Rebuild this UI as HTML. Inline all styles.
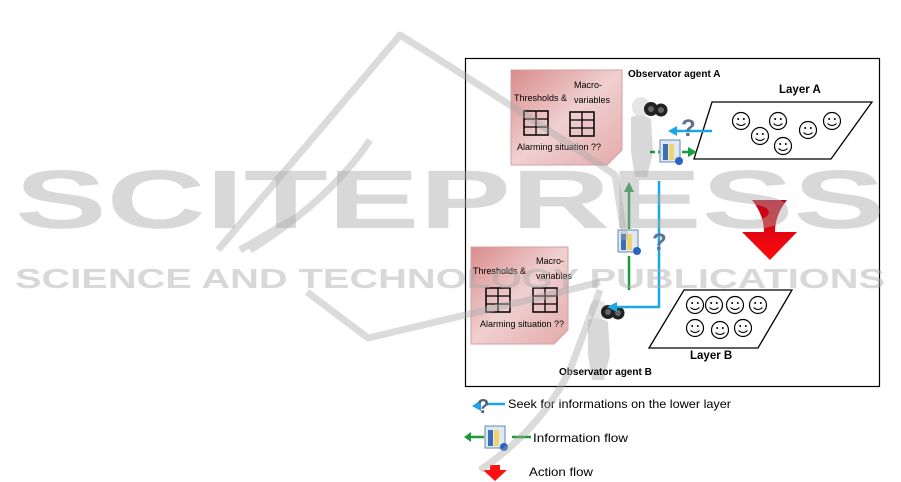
<!DOCTYPE html>
<html><head><meta charset="utf-8"><style>
body{margin:0;background:#fff;}
svg{display:block}
text{font-family:"Liberation Sans",sans-serif}
</style></head><body>
<svg width="901" height="482" viewBox="0 0 901 482" xmlns="http://www.w3.org/2000/svg">
<defs>
<linearGradient id="pk" x1="0" y1="0" x2="1" y2="1"><stop offset="0" stop-color="#d98b8b"/><stop offset="0.5" stop-color="#f0d0d0"/><stop offset="1" stop-color="#e3aaaa"/></linearGradient>
<linearGradient id="red" x1="0" y1="0" x2="0" y2="1"><stop offset="0" stop-color="#c00018"/><stop offset="1" stop-color="#ff0a0a"/></linearGradient>
<g id="smile"><circle r="8.5" fill="#fff" stroke="#000" stroke-width="1.2"/><circle cx="-2.8" cy="-2" r="1" /><circle cx="2.8" cy="-2" r="1"/><path d="M-4.5 2.5 Q0 6.5 4.5 2.5" fill="none" stroke="#000" stroke-width="1"/></g>
<g id="grid"><rect x="0" y="0" width="24" height="24" fill="none" stroke="#000" stroke-width="1.5"/><line x1="12" y1="0" x2="12" y2="24" stroke="#000" stroke-width="1.3"/><line x1="0" y1="8" x2="24" y2="8" stroke="#000" stroke-width="1.3"/><line x1="0" y1="16" x2="24" y2="16" stroke="#000" stroke-width="1.3"/></g>
<g id="doc"><rect x="0" y="0" width="20" height="22" fill="#dfe8f5" stroke="#6a86b0"/><rect x="3" y="4" width="5" height="16" fill="#3d6fb8"/><rect x="9" y="4" width="5" height="16" fill="#f1d46a"/><circle cx="19" cy="21" r="4" fill="#2a63c2"/></g>
<g id="person"><ellipse cx="0" cy="0" rx="9" ry="10" fill="#e6e6e6"/><path d="M-10 10 Q0 6 10 12 L12 45 L6 70 L-6 70 L-10 45 Z" fill="#d8d8d8"/><circle cx="10" cy="2" r="7" fill="#222"/><circle cx="20" cy="3" r="6.5" fill="#222"/><circle cx="10" cy="2" r="3" fill="#666"/><circle cx="20" cy="3" r="3" fill="#666"/></g>
</defs>

<rect x="465.5" y="58.5" width="414" height="328" fill="none" stroke="#000" stroke-width="1.2"/>

<path d="M511 70 L622 70 L622 150 L607 165 L511 165 Z" fill="url(#pk)" stroke="#d6a0a0"/>
<text x="514" y="101" font-size="9">Thresholds &amp;</text>
<text x="574" y="88" font-size="9">Macro-</text>
<text x="574" y="103" font-size="9">variables</text>
<use href="#grid" x="524" y="111"/>
<use href="#grid" x="570" y="112"/>
<text x="517" y="150" font-size="9">Alarming  situation ??</text>

<path d="M471 247 L568 247 L568 330 L554 344 L471 344 Z" fill="url(#pk)" stroke="#d6a0a0"/>
<text x="473" y="274" font-size="9">Thresholds &amp;</text>
<text x="536" y="264" font-size="9">Macro-</text>
<text x="536" y="279" font-size="9">variables</text>
<use href="#grid" x="486" y="288"/>
<use href="#grid" x="533" y="288"/>
<text x="480" y="327" font-size="9">Alarming  situation ??</text>

<use href="#person" x="641" y="107"/>
<use href="#person" x="598" y="310"/>
<text x="628" y="77" font-size="10" font-weight="bold">Observator agent A</text>
<text x="559" y="375" font-size="10" font-weight="bold">Observator agent B</text>

<polygon points="712,102 872,102 831,159 694,159" fill="#fff" stroke="#000" stroke-width="1.3"/>
<text x="779" y="93" font-size="11.5" font-weight="bold">Layer A</text>
<use href="#smile" x="741" y="121"/><use href="#smile" x="778" y="121"/><use href="#smile" x="760" y="136"/><use href="#smile" x="783" y="146"/><use href="#smile" x="808" y="130"/><use href="#smile" x="832" y="121"/>

<polygon points="684,290 792,290 758,348 649,348" fill="#fff" stroke="#000" stroke-width="1.3"/>
<text x="690" y="359" font-size="11.5" font-weight="bold">Layer B</text>
<use href="#smile" x="695" y="305"/><use href="#smile" x="714" y="305"/><use href="#smile" x="735" y="305"/><use href="#smile" x="758" y="305"/><use href="#smile" x="695" y="328"/><use href="#smile" x="720" y="330"/><use href="#smile" x="743" y="328"/>

<line x1="712" y1="131" x2="676" y2="131" stroke="#1aa7e8" stroke-width="2.5"/>
<polygon points="668,131 677,126 677,136" fill="#1aa7e8"/>
<text x="681" y="136" font-size="24" font-weight="bold" fill="#607090">?</text>
<line x1="650" y1="152" x2="662" y2="152" stroke="#1a9a3a" stroke-width="2.5" stroke-dasharray="5,3"/>
<line x1="682" y1="152" x2="688" y2="152" stroke="#1a9a3a" stroke-width="2.5"/>
<polygon points="697,152 688,147 688,157" fill="#1aa040"/>
<use href="#doc" x="660" y="140"/>

<line x1="629" y1="290" x2="629" y2="190" stroke="#1a9a3a" stroke-width="2.5"/>
<polygon points="629,182 624,192 634,192" fill="#1a9a3a"/>
<polyline points="659,181 659,307 616,307" fill="none" stroke="#1aa7e8" stroke-width="2.5"/>
<polygon points="607,307 617,302 617,312" fill="#1aa7e8"/>
<rect x="617" y="229" width="24" height="27" fill="#fff"/>
<use href="#doc" x="618" y="230"/>
<text x="652" y="250" font-size="24" font-weight="bold" fill="#607090">?</text>

<path d="M752 200 L787 200 Q775 215 775 232 L797 232 L770 260 L742 232 L764 232 Q764 215 752 200 Z" fill="url(#red)"/>

<line x1="486" y1="404" x2="505" y2="404" stroke="#1aa7e8" stroke-width="2.5"/>
<polygon points="472,406 481,400 481,411" fill="#1aa7e8"/>
<text x="477" y="413" font-size="20" font-weight="bold" fill="#55607a">?</text>
<text x="508" y="408" font-size="12" textLength="223" lengthAdjust="spacingAndGlyphs">Seek for informations on the lower layer</text>
<line x1="468" y1="437" x2="484" y2="437" stroke="#1a9a3a" stroke-width="2.5"/>
<polygon points="464,437 471,432 471,442" fill="#1a9a3a"/>
<use href="#doc" x="485" y="426"/>
<line x1="512" y1="437" x2="531" y2="437" stroke="#1a9a3a" stroke-width="2.5"/>
<text x="533" y="442" font-size="12" textLength="95" lengthAdjust="spacingAndGlyphs">Information flow</text>
<path d="M490 465 L500 465 L500 470 L507 470 L495 481 L483 470 L490 470 Z" fill="#ff1010"/>
<text x="529" y="476" font-size="12" textLength="64" lengthAdjust="spacingAndGlyphs">Action flow</text>

<g opacity="0.42" fill="none" stroke="#aaa" stroke-width="7" stroke-linejoin="round">
<path d="M218 250 L400 35 Q520 110 615 175 L625 240"/>
<path d="M240 250 L300 215"/>
<path d="M307 292 L368 338 L545 296 L600 282"/>
<path d="M600 290 L570 370 Q540 430 480 470"/>
<path d="M250 250 Q330 200 370 140"/>
</g>
<g opacity="0.45" fill="#aaa">
<text x="15" y="228" font-size="83" font-weight="bold" textLength="870" lengthAdjust="spacingAndGlyphs">SCITEPRESS</text>
<text x="15" y="288" font-size="28" font-weight="bold" textLength="870" lengthAdjust="spacingAndGlyphs">SCIENCE AND TECHNOLOGY PUBLICATIONS</text>
</g>
</svg>
</body></html>
